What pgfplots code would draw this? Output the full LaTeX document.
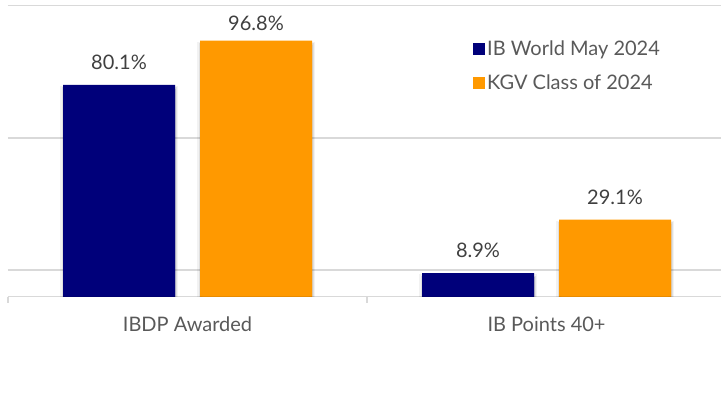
\documentclass[border=0pt]{standalone}
\usepackage{pgfplots}
\pgfplotsset{compat=1.18}
\usepackage{fontspec}
\setmainfont{Lato}
\definecolor{navybar}{HTML}{00007A}
\definecolor{orangebar}{HTML}{FF9900}
\definecolor{gridgray}{HTML}{D9D9D9}
\definecolor{valtext}{HTML}{404040}
\definecolor{labtext}{HTML}{595959}
\pgfplotstableread{
x y shift
0 80.1 12
1 8.9 12
}\ibworld
\pgfplotstableread{
x y shift
0 96.8 6
1 29.1 12
}\kgv
\makeatletter
\tikzset{nopre/.code={\let\tikz@preactions\pgfutil@empty}}
\makeatother
\tikzset{barshadow/.style={
  preaction={draw=black, draw opacity=0.05, line width=6pt, transform canvas={yshift=-4pt}},
  preaction={fill=black, fill opacity=0.10, draw=black, draw opacity=0.08, line width=3pt, transform canvas={yshift=-4pt}},
  preaction={fill=black, fill opacity=0.16, transform canvas={yshift=-3pt}}}}
\begin{document}
\begin{tikzpicture}
\useasboundingbox (0pt,0pt) rectangle (721pt,401pt);
\begin{axis}[
  at={(8pt,104.3pt)}, anchor=south west,
  scale only axis, width=713pt, height=291pt,
  ybar=25pt, bar width=112pt,
  xmin=-0.5, xmax=1.486, ymin=0, ymax=110,
  axis x line*=bottom, axis y line*=left,
  x axis line style={gridgray, line width=1.5pt},
  y axis line style={draw=none},
  xtick={0,1}, xticklabels={IBDP Awarded, IB Points 40+},
  xtick style={gridgray, line width=1.5pt},
  major tick length=0pt, tick align=outside,
  extra x ticks={-0.5,0.5}, extra x tick labels={},
  extra x tick style={major tick length=6pt},
  xticklabel style={font=\fontsize{20}{24}\selectfont, text=labtext, yshift=-17pt},
  ytick={10,60,110}, yticklabels={}, ytick style={draw=none},
  ymajorgrids, major grid style={gridgray, line width=1.5pt},
  /pgf/number format/assume math mode=true,
  nodes near coords={\pgfmathprintnumber[fixed,precision=1,fixed zerofill]{\pgfplotspointmeta}\%},
  every node near coord/.append style={font=\fontsize{20}{24}\selectfont, text=valtext},
  legend style={at={(rel axis cs:0.648,0.9)}, anchor=north west, draw=none, fill=none,
    font=\fontsize{20}{24}\selectfont, text=labtext, row sep=14pt, yshift=-2pt},
  legend cell align=left,
  legend image code/.code={\draw[#1, draw=none, nopre] (0pt,-6pt) rectangle (12pt,6pt);},
]
\addplot[fill=navybar, draw=none, barshadow,
  visualization depends on={\thisrow{shift} \as \labshift},
  every node near coord/.append style={yshift=\labshift}] table[x=x, y=y] {\ibworld};
\addplot[fill=orangebar, draw=none, barshadow,
  visualization depends on={\thisrow{shift} \as \labshift},
  every node near coord/.append style={yshift=\labshift}] table[x=x, y=y] {\kgv};
\legend{IB World May 2024, KGV Class of 2024}
\end{axis}
\end{tikzpicture}
\end{document}
